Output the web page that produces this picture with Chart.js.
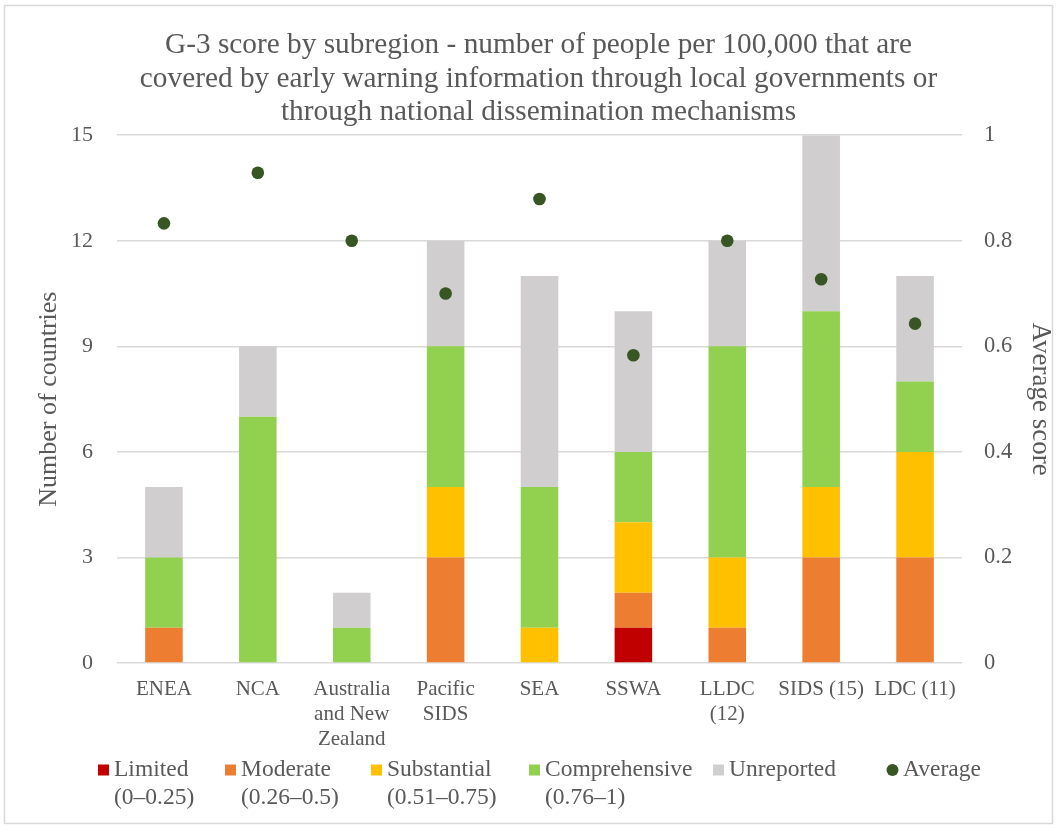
<!DOCTYPE html>
<html><head><meta charset="utf-8">
<script src="https://cdn.jsdelivr.net/npm/chart.js@4"></script>
<style>
html,body{margin:0;padding:0;background:#fff;overflow:hidden;}
canvas{display:block}
</style></head><body>
<canvas id="c" width="1057" height="829"></canvas>
<script>
const categories = [["ENEA"],["NCA"],["Australia","and New","Zealand"],["Pacific","SIDS"],["SEA"],["SSWA"],["LLDC","(12)"],["SIDS (15)"],["LDC (11)"]];
const limited       = [0,0,0,0,0,1,0,0,0];
const moderate      = [1,0,0,3,0,1,1,3,3];
const substantial   = [0,0,0,2,1,2,2,2,3];
const comprehensive = [2,7,1,4,4,2,6,5,2];
const unreported    = [2,2,1,3,6,4,3,5,3];
const average       = [0.833,0.929,0.8,0.7,0.879,0.583,0.8,0.727,0.643];
const leftTicks  = [0,3,6,9,12,15];
const rightTicks = [0,0.2,0.4,0.6,0.8,1];
const titleLines = ["G-3 score by subregion - number of people per 100,000 that are","covered by early warning information through local governments or","through national dissemination mechanisms"];
const legendLines = [["Limited","(0–0.25)"],["Moderate","(0.26–0.5)"],["Substantial","(0.51–0.75)"],["Comprehensive","(0.76–1)"],["Unreported"],["Average"]];

const FONT = '"Liberation Serif", "Times New Roman", serif';
const GREY = '#595959';
const colors = ['#C00000','#ED7D31','#FFC000','#92D050','#D0CECE','#375623'];

const barSets = [limited, moderate, substantial, comprehensive, unreported];
const datasets = barSets.map((d,i)=>({
  type:'bar', label: legendLines[i].join(' '), data:d, backgroundColor:colors[i],
  borderWidth:0, stack:'s', order:1, yAxisID:'y',
  barPercentage:0.4, categoryPercentage:1.0
}));
datasets.push({
  type:'line', label:'Average', data:average, yAxisID:'y1', showLine:false,
  pointRadius:6.3, pointHoverRadius:6.3, pointBorderWidth:0, pointBackgroundColor:colors[5], pointBorderColor:colors[5], order:0
});

const framePlugin = {
  id:'frame',
  beforeDraw(chart){
    const ctx = chart.ctx;
    ctx.save();
    ctx.fillStyle = '#ffffff';
    ctx.fillRect(0,0,chart.width,chart.height);
    ctx.strokeStyle = '#D9D9D9';
    ctx.lineWidth = 1.5;
    ctx.strokeRect(4.5, 5.5, chart.width-9, chart.height-11);
    ctx.restore();
  }
};

// legend item offsets relative to the plot's left edge
const legendOffsets = [-19, 108, 254, 412, 596, 770];
const legendPlugin = {
  id:'customLegend',
  afterDraw(chart){
    const ctx = chart.ctx;
    ctx.save();
    ctx.font = '23.5px ' + FONT;
    ctx.textBaseline = 'middle';
    ctx.textAlign = 'left';
    const mk = 11, mg = 5;
    const ca = chart.chartArea;
    const y0 = 770, lh = 28;
    legendLines.forEach((lines,i)=>{
      const x = ca.left + legendOffsets[i];
      ctx.fillStyle = colors[i];
      if (i===5){ ctx.beginPath(); ctx.arc(x+mk/2, y0, 6, 0, Math.PI*2); ctx.fill(); }
      else ctx.fillRect(x, y0-mk/2, mk, mk);
      ctx.fillStyle = GREY;
      lines.forEach((t,j)=>ctx.fillText(t, x+mk+mg, y0+j*lh));
    });
    ctx.restore();
  }
};

new Chart(document.getElementById('c'), {
  data:{ labels:categories, datasets },
  plugins:[framePlugin, legendPlugin],
  options:{
    responsive:false, animation:false,
    layout:{ padding:{ left:20, right:0, top:29, bottom:63 } },
    plugins:{
      legend:{ display:false },
      tooltip:{ enabled:false },
      title:{ display:true, text:titleLines, color:GREY, font:{ family:FONT, size:29.3, weight:'normal', lineHeight:1.14 }, padding:{ top:0, bottom:6 } }
    },
    scales:{
      x:{ stacked:true, grid:{ display:false, drawTicks:false, tickLength:0 }, border:{ display:false },
          ticks:{ color:GREY, font:{ family:FONT, size:21, lineHeight:1.19 }, maxRotation:0, autoSkip:false, padding:14 } },
      y:{ stacked:true, position:'left', min:0, max:15,
          afterBuildTicks: s => { s.ticks = leftTicks.map(v=>({value:v})); },
          afterFit: s => { s.width = 97; },
          grid:{ color:'#D9D9D9', lineWidth:1.5, drawTicks:false, tickLength:0 }, border:{ display:false },
          ticks:{ color:GREY, font:{ family:FONT, size:22 }, padding:24 },
          title:{ display:true, text:'Number of countries', color:GREY, font:{ family:FONT, size:26 }, padding:{ top:14 } } },
      y1:{ position:'right', min:0, max:1,
          afterBuildTicks: s => { s.ticks = rightTicks.map(v=>({value:v})); },
          afterFit: s => { s.width = 95; },
          grid:{ display:false, drawTicks:false, tickLength:0 }, border:{ display:false },
          ticks:{ color:GREY, font:{ family:FONT, size:22.5 }, padding:22, callback: v => String(Math.round(v*10)/10) },
          title:{ display:true, text:'Average score', color:GREY, font:{ family:FONT, size:27 }, padding:{ top:1 } } }
    }
  }
});
</script>
</body></html>
